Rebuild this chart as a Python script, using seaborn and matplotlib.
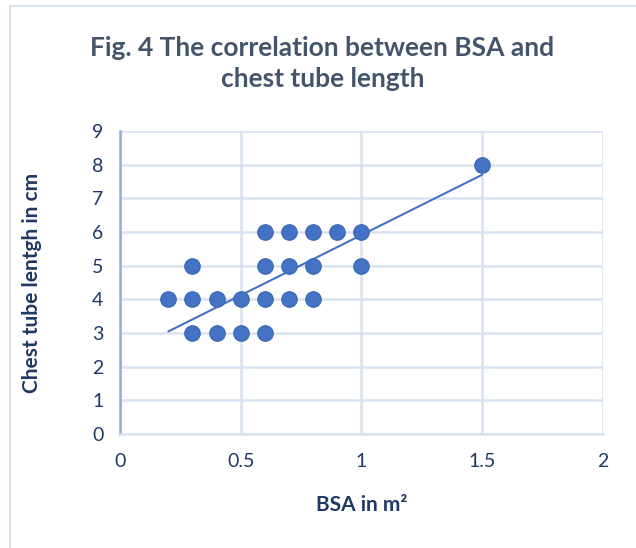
import numpy as np
import matplotlib
matplotlib.use("Agg")
import matplotlib.pyplot as plt
import seaborn as sns
from matplotlib.patches import Rectangle

# data
bsa = [0.2, 0.3, 0.3, 0.3, 0.4, 0.4, 0.5, 0.5, 0.6, 0.6, 0.6, 0.6,
       0.7, 0.7, 0.7, 0.8, 0.8, 0.8, 0.9, 1.0, 1.0, 1.5]
tube_len = [4, 5, 4, 3, 4, 3, 4, 3, 6, 5, 4, 3,
            6, 5, 4, 6, 5, 4, 6, 6, 5, 8]
# linear trendline as shown in the figure (estimated)
trend_slope = 3.58
trend_intercept = 2.33

x_ticks = [0, 0.5, 1, 1.5, 2]
x_tick_labels = ["0", "0.5", "1", "1.5", "2"]
y_ticks = list(range(0, 10))

sns.set_style("white")
plt.rcParams["font.family"] = ["Lato", "DejaVu Sans"]

BLUE = "#4472C4"
GRID = "#D9E2F3"
TEXT = "#44546A"
NAVY = "#1F3864"

fig = plt.figure(figsize=(6.36, 5.48), dpi=100)
ax = fig.add_axes([0.1887, 0.208, 0.7593, 0.553])

# outer chart border
fig.patches.append(Rectangle((0.016, -0.05), 1.1, 1.039, transform=fig.transFigure,
                             fill=False, edgecolor=GRID, linewidth=1.5))

xs = np.array([min(bsa), max(bsa)])
ax.plot(xs, trend_intercept + trend_slope * xs, color=BLUE, linewidth=1.5, zorder=2)

sns.scatterplot(x=bsa, y=tube_len, ax=ax, color=BLUE, s=125,
                edgecolor="#3A65B0", linewidth=0.8, zorder=3, legend=False)

ax.set_xlim(0, 2)
ax.set_ylim(0, 9)
ax.set_xticks(x_ticks)
ax.set_xticklabels(x_tick_labels)
ax.set_yticks(y_ticks)
ax.grid(True, color=GRID, linewidth=1.8)
ax.set_axisbelow(True)
for side in ["top", "right"]:
    ax.spines[side].set_visible(False)
ax.spines["left"].set_color("#8FAADC")
ax.spines["left"].set_linewidth(1.8)
ax.spines["bottom"].set_color(GRID)
ax.spines["bottom"].set_linewidth(1.8)
ax.tick_params(axis="x", length=0, labelsize=14, labelcolor=NAVY, pad=14)
ax.tick_params(axis="y", length=0, labelsize=14, labelcolor=NAVY, pad=12)

ax.set_xlabel("BSA in m²", fontsize=15, fontweight="bold", color=NAVY, labelpad=18)
ax.set_ylabel("Chest tube lentgh in cm", fontsize=15, fontweight="bold", color=NAVY, labelpad=36)

fig.text(0.507, 0.885, "Fig. 4 The correlation between BSA and\nchest tube length",
         ha="center", va="center", fontsize=19, fontweight="bold", color=TEXT,
         linespacing=1.35)

fig.savefig("out.png", dpi=100)
